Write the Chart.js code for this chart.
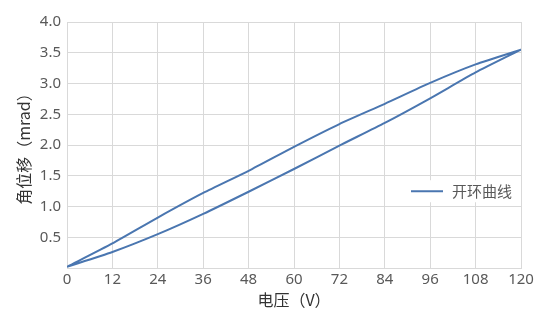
<!DOCTYPE html>
<html>
<head>
<meta charset="utf-8">
<script src="https://cdn.jsdelivr.net/npm/chart.js@4"></script>
<style>
  html, body { margin: 0; padding: 0; background: #fff; }
  #wrap { width: 551px; height: 321px; }
</style>
</head>
<body>
<div id="wrap"><canvas id="loop-chart"></canvas></div>
<script>
// DATA
var voltageUp = [0, 12, 24, 36, 48, 60, 72, 84, 96, 108, 120];
var angleUp = [0.02, 0.26, 0.55, 0.88, 1.24, 1.61, 1.99, 2.36, 2.76, 3.18, 3.55];
var voltageDown = [120, 108, 96, 84, 72, 60, 48, 36, 24, 12, 0];
var angleDown = [3.55, 3.31, 3.01, 2.67, 2.34, 1.97, 1.58, 1.22, 0.82, 0.40, 0.02];
var seriesName = "开环曲线";
var xTitle = "电压（V）";
var yTitle = "角位移（mrad）";

var lineColor = "#4a76b0";
var textColor = "#595959";
var gridColor = "#d9d9d9";
var fontFamily = '"Noto Sans", "Noto Sans CJK SC", sans-serif';
var cjkFont = '"Noto Sans CJK SC", sans-serif';

var points = [];
for (var i = 0; i < voltageUp.length; i++) points.push({ x: voltageUp[i], y: angleUp[i] });
for (var j = 0; j < voltageDown.length; j++) points.push({ x: voltageDown[j], y: angleDown[j] });

// legend drawn inside the plot area
var insideLegend = {
    id: "insideLegend",
    afterDraw: function (chart) {
        var ctx = chart.ctx;
        var a = chart.chartArea;
        var cy = a.top + (a.bottom - a.top) * 0.688;
        var x0 = a.right - 110;
        ctx.save();
        ctx.fillStyle = "#fff";
        ctx.fillRect(x0 - 6, cy - 11, 113, 22);
        ctx.strokeStyle = lineColor;
        ctx.lineWidth = 2;
        ctx.beginPath();
        ctx.moveTo(x0, cy);
        ctx.lineTo(x0 + 32, cy);
        ctx.stroke();
        ctx.fillStyle = textColor;
        ctx.font = "15px " + cjkFont;
        ctx.textBaseline = "middle";
        ctx.fillText(seriesName, x0 + 41, cy);
        ctx.restore();
    }
};

var chart = new Chart(document.getElementById("loop-chart"), {
    type: "scatter",
    data: {
        datasets: [{
            label: seriesName,
            data: points,
            showLine: true,
            borderColor: lineColor,
            backgroundColor: lineColor,
            borderWidth: 2,
            pointRadius: 0,
            tension: 0.2
        }]
    },
    options: {
        responsive: true,
        maintainAspectRatio: false,
        animation: false,
        layout: { padding: { top: 22, right: 30, left: 14, bottom: 11 } },
        plugins: {
            legend: { display: false },
            tooltip: { enabled: false }
        },
        scales: {
            x: {
                type: "linear",
                min: 0,
                max: 120,
                ticks: {
                    stepSize: 12,
                    color: textColor,
                    font: { family: fontFamily, size: 15 },
                    padding: 3,
                    maxRotation: 0
                },
                grid: { color: gridColor, drawTicks: false },
                border: { color: gridColor },
                title: {
                    display: true,
                    text: xTitle,
                    color: "#333333",
                    font: { family: cjkFont, size: 16 },
                    padding: { top: 2, bottom: 0 }
                },
                afterFit: function (s) { s.height = 42; }
            },
            y: {
                min: 0,
                max: 4,
                ticks: {
                    stepSize: 0.5,
                    color: textColor,
                    font: { family: fontFamily, size: 15 },
                    padding: 6,
                    callback: function (v) { return v === 0 ? "" : v.toFixed(1); }
                },
                grid: { color: gridColor, drawTicks: false },
                border: { color: gridColor },
                title: {
                    display: true,
                    text: yTitle,
                    color: "#333333",
                    font: { family: cjkFont, size: 16 },
                    padding: { top: 0, bottom: 2 }
                },
                afterFit: function (s) { s.width = 53; }
            }
        }
    },
    plugins: [insideLegend]
});
</script>
</body>
</html>
